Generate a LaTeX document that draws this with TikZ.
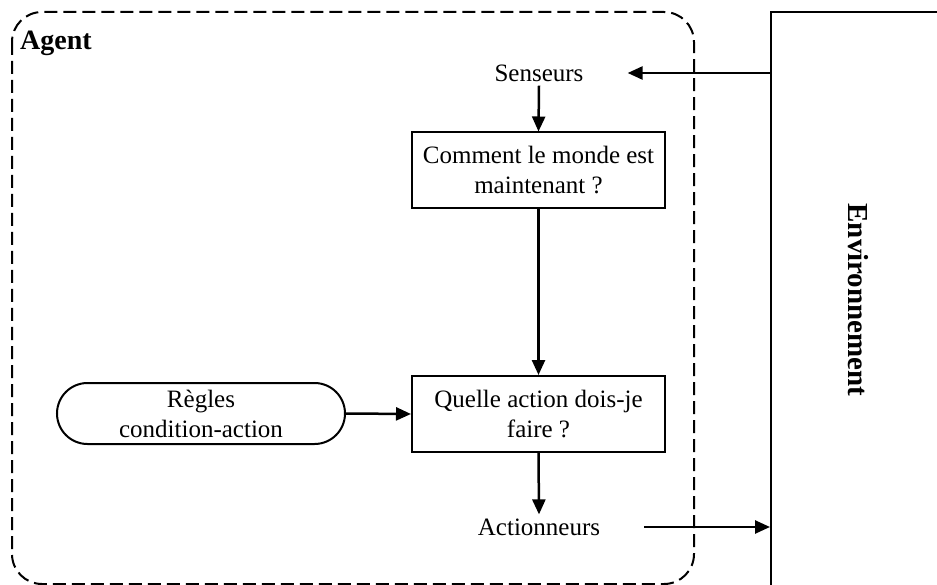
\documentclass[tikz,border=0pt]{standalone}
\usepackage{fontspec}
\setmainfont{Liberation Serif}
\usetikzlibrary{arrows.meta,shapes.misc,calc}

\tikzset{
  txt/.style={font=\fontsize{25}{30}\selectfont, align=center, inner sep=2pt},
  label/.style={txt, inner ysep=4pt},
  stepbox/.style={txt, draw, line width=2pt, minimum width=253pt, minimum height=76pt, inner sep=0pt},
  rulebox/.style={txt, draw, rounded rectangle, line width=2pt, minimum width=288pt, minimum height=61pt, inner sep=0pt},
  arr/.style={line width=2.5pt, -{Triangle[length=15pt,width=13pt]}},
  frame/.style={draw, dashed, dash pattern=on 13pt off 6pt, line width=2pt, rounded corners=30pt},
}

\begin{document}
\begin{tikzpicture}[x=1pt,y=-1pt]
  \clip (0,0) rectangle (937,585);
  \fill[white] (0,0) rectangle (937,585);

  % agent boundary
  \draw[frame] (12,12) rectangle (694,584);
  \node[anchor=base west, font=\fontsize{28}{30}\selectfont\bfseries, inner sep=0pt] (agent) at (20,50) {Agent};

  % environment block (extends past the edges)
  \node[draw, line width=2pt, minimum width=220pt, minimum height=620pt, anchor=north west, inner sep=0pt] (env) at (770,11) {};
  \node[rotate=-90, font=\fontsize{29}{30}\selectfont\bfseries] (envlabel) at (858,300) {Environnement};

  % agent internals
  \node[label] (sens) at (539,73) {Senseurs};
  \node[stepbox] (monde) at (538.5,170.5) {Comment le monde est\\maintenant ?};
  \node[stepbox] (action) at (538.5,414) {Quelle action dois-je\\faire ?};
  \node[rulebox] (regles) at (201,413.5) {Règles\\condition-action};
  \node[label] (act) at (539,527) {Actionneurs};

  \coordinate (sensIn) at ($(sens.east)+(42,0)$);
  \coordinate (actOut) at ($(act.east)+(42,0)$);

  \draw[arr] (sens -| env.west) -- (sensIn);
  \draw[arr] (sens.south) -- (monde.north);
  \draw[arr] (monde.south) -- (action.north);
  \draw[arr] (regles.east) -- (action.west);
  \draw[arr] (action.south) -- (act.north);
  \draw[arr] (actOut) -- (act -| env.west);
\end{tikzpicture}
\end{document}
